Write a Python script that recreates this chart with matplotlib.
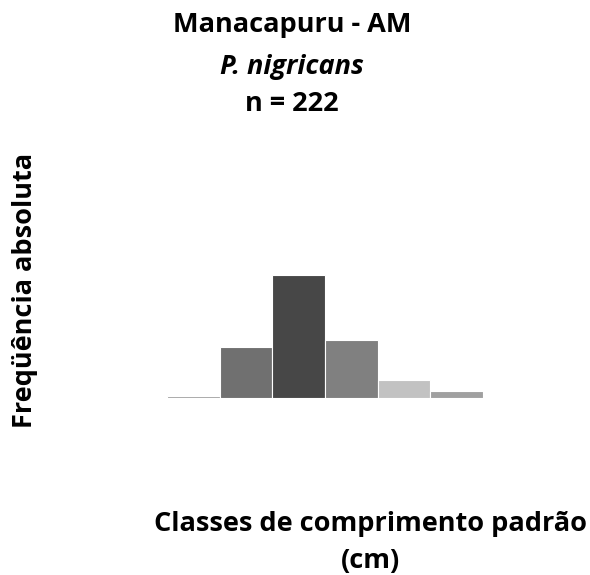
import matplotlib.pyplot as plt
import numpy as np

plt.rcParams["font.family"] = ["Open Sans", "DejaVu Sans"]

# length classes (unlabelled in the original) and absolute frequencies
classes = np.arange(6)
freq = [2, 44, 105, 50, 15, 6]
shades = ['#a3a3a3', '#707070', '#474747', '#808080', '#c2c2c2', '#a0a0a0']

fig = plt.figure(figsize=(5.9, 5.75), dpi=100)
ax = fig.add_axes([167 / 590, 177 / 575, 316 / 590, 248 / 575])

ax.bar(classes, freq, width=1.0, color=shades, edgecolor='white', linewidth=0.8)
ax.set_xlim(-0.5, 5.5)
ax.set_ylim(0, 212)
ax.axis('off')

fs = 19.5
fig.text(292 / 590, 1 - 25 / 575, "Manacapuru - AM", ha='center', va='center',
         size=fs, weight='bold')
fig.text(292 / 590, 1 - 67 / 575, "P. nigricans", ha='center', va='center',
         size=fs, weight='bold', style='italic')
fig.text(292 / 590, 1 - 104 / 575, "n = 222", ha='center', va='center',
         size=fs, weight='bold')

fig.text(25 / 590, 1 - 290 / 575, "Freqüência absoluta", ha='center', va='center',
         size=fs, weight='bold', rotation=90)
fig.text(370 / 590, 1 - 524 / 575, "Classes de comprimento padrão", ha='center',
         va='center', size=fs, weight='bold')
fig.text(370 / 590, 1 - 561 / 575, "(cm)", ha='center', va='center',
         size=fs, weight='bold')

fig.savefig("out.png", dpi=100)
